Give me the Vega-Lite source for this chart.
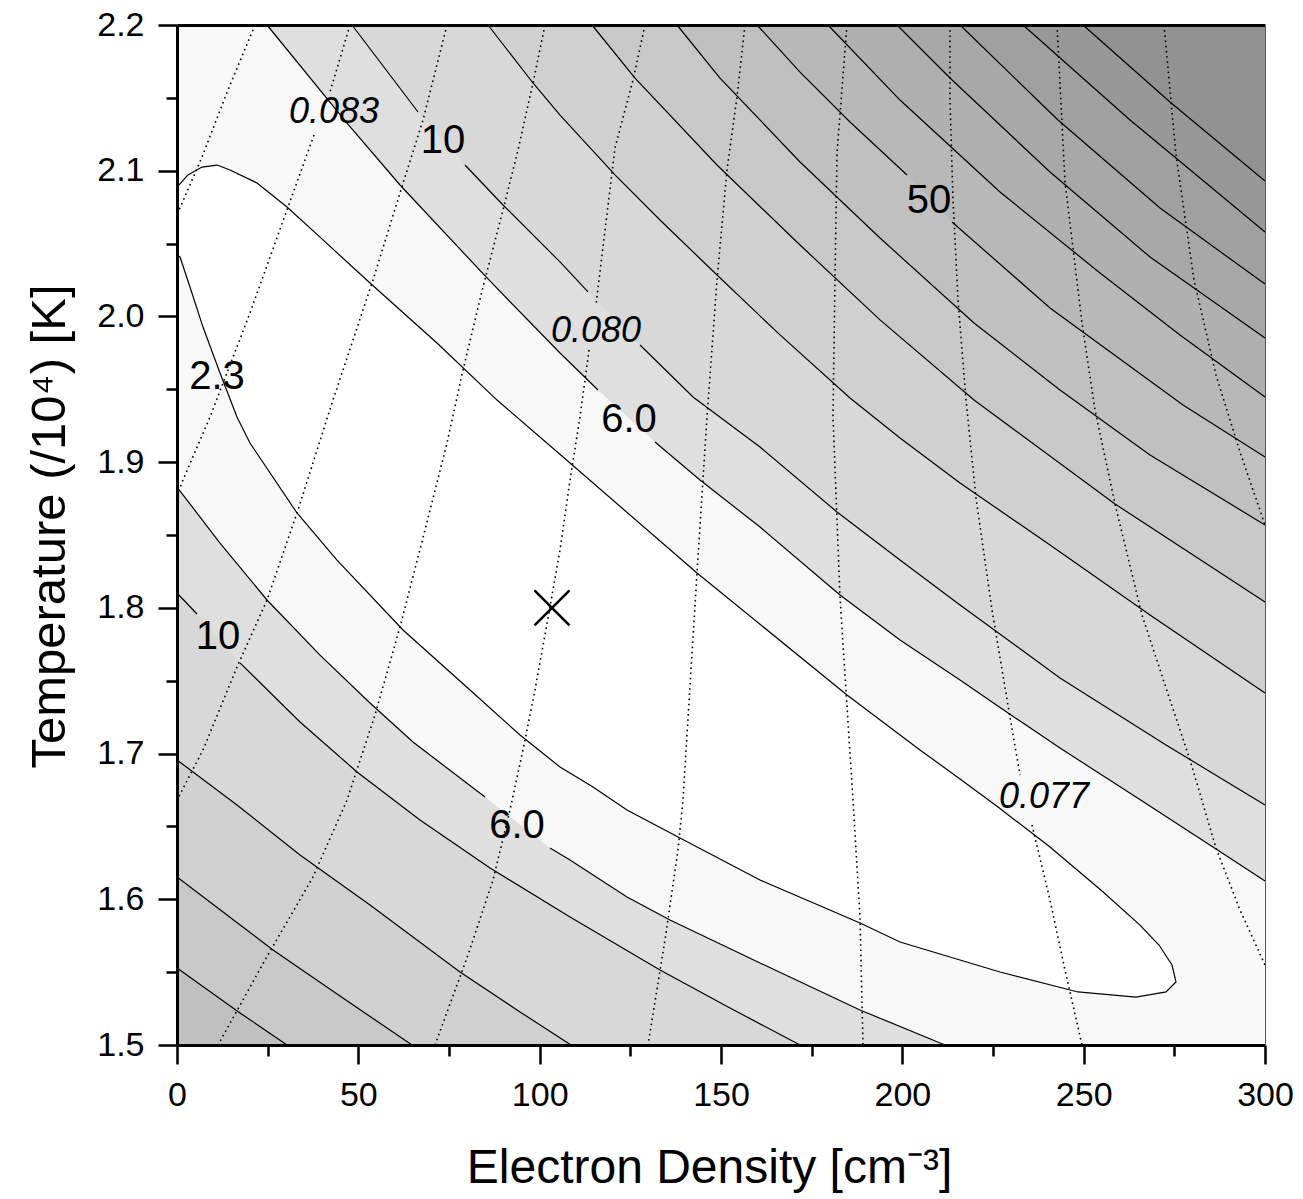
{
  "$schema": "https://vega.github.io/schema/vega-lite/v6.json",
  "width": 1088,
  "height": 1020,
  "autosize": {"type": "none"},
  "padding": {"left": 177, "top": 25, "right": 38, "bottom": 154},
  "background": "white",
  "config": {"view": {"stroke": null, "fill": "#929292"}, "font": "Liberation Sans"},
  "datasets": {
    "c": [
      {"l":100,"s":"c","k":0,"x":0,"y":2.2},{"l":100,"s":"u","k":1,"x":249.82,"y":2.2},{"l":100,"s":"u","k":2,"x":273.80,"y":2.1472},{"l":100,"s":"u","k":3,"x":300,"y":2.0929},{"l":100,"s":"c","k":4,"x":300,"y":1.5},{"l":100,"s":"c","k":5,"x":0,"y":1.5},
      {"l":90,"s":"c","k":0,"x":0,"y":2.2},{"l":90,"s":"u","k":1,"x":233.27,"y":2.2},{"l":90,"s":"u","k":2,"x":262.78,"y":2.1348},{"l":90,"s":"u","k":3,"x":282.08,"y":2.0950},{"l":90,"s":"u","k":4,"x":300,"y":2.0579},{"l":90,"s":"c","k":5,"x":300,"y":1.5},{"l":90,"s":"c","k":6,"x":0,"y":1.5},
      {"l":80,"s":"c","k":0,"x":0,"y":2.2},{"l":80,"s":"u","k":1,"x":215.90,"y":2.2},{"l":80,"s":"u","k":2,"x":242.92,"y":2.1348},{"l":80,"s":"u","k":3,"x":271.05,"y":2.0744},{"l":80,"s":"u","k":4,"x":300,"y":2.0222},{"l":80,"s":"c","k":5,"x":300,"y":1.5},{"l":80,"s":"c","k":6,"x":0,"y":1.5},
      {"l":70,"s":"c","k":0,"x":0,"y":2.2},{"l":70,"s":"u","k":1,"x":198.53,"y":2.2},{"l":70,"s":"u","k":2,"x":213.14,"y":2.1636},{"l":70,"s":"u","k":3,"x":240.72,"y":2.0991},{"l":70,"s":"u","k":4,"x":268.29,"y":2.0408},{"l":70,"s":"u","k":5,"x":300,"y":1.9852},{"l":70,"s":"c","k":6,"x":300,"y":1.5},{"l":70,"s":"c","k":7,"x":0,"y":1.5},
      {"l":60,"s":"c","k":0,"x":0,"y":2.2},{"l":60,"s":"u","k":1,"x":179.50,"y":2.2},{"l":60,"s":"u","k":2,"x":199.36,"y":2.1485},{"l":60,"s":"u","k":3,"x":226.93,"y":2.0854},{"l":60,"s":"u","k":4,"x":254.50,"y":2.0298},{"l":60,"s":"u","k":5,"x":276.56,"y":1.9873},{"l":60,"s":"u","k":6,"x":300,"y":1.9447},{"l":60,"s":"c","k":7,"x":300,"y":1.5},{"l":60,"s":"c","k":8,"x":0,"y":1.5},
      {"l":50,"s":"c","k":0,"x":0,"y":2.2},{"l":50,"s":"u","k":1,"x":159.93,"y":2.2},{"l":50,"s":"u","k":2,"x":171.79,"y":2.1677},{"l":50,"s":"u","k":3,"x":185.57,"y":2.1334},{"l":50,"s":"u","k":4,"x":201.29,"y":2.0971},{"l":50,"s":"u2","k":5,"x":213.70,"y":2.0648},{"l":50,"s":"u2","k":6,"x":240.72,"y":2.0058},{"l":50,"s":"u2","k":7,"x":277.39,"y":1.9392},{"l":50,"s":"u2","k":8,"x":300,"y":1.9035},{"l":50,"s":"c","k":9,"x":300,"y":1.5},{"l":50,"s":"c","k":10,"x":0,"y":1.5},
      {"l":40,"s":"c","k":0,"x":0,"y":2.2},{"l":40,"s":"u","k":1,"x":137.87,"y":2.2},{"l":40,"s":"u","k":2,"x":149.72,"y":2.1636},{"l":40,"s":"u","k":3,"x":171.79,"y":2.1060},{"l":40,"s":"u","k":4,"x":193.84,"y":2.0538},{"l":40,"s":"u","k":5,"x":219.76,"y":1.9955},{"l":40,"s":"u","k":6,"x":243.47,"y":1.9495},{"l":40,"s":"u","k":7,"x":268.29,"y":1.9049},{"l":40,"s":"u","k":8,"x":300,"y":1.8569},{"l":40,"s":"c","k":9,"x":300,"y":1.5},{"l":40,"s":"d","k":10,"x":30.33,"y":1.5},{"l":40,"s":"d","k":11,"x":17.37,"y":1.5220},{"l":40,"s":"d","k":12,"x":0,"y":1.5528},
      {"l":30,"s":"c","k":0,"x":0,"y":2.2},{"l":30,"s":"u","k":1,"x":114.43,"y":2.2},{"l":30,"s":"u","k":2,"x":126.29,"y":2.1636},{"l":30,"s":"u","k":3,"x":148.90,"y":2.1039},{"l":30,"s":"u","k":4,"x":171.79,"y":2.0490},{"l":30,"s":"u","k":5,"x":193.84,"y":1.9976},{"l":30,"s":"u","k":6,"x":219.76,"y":1.9426},{"l":30,"s":"u","k":7,"x":258.64,"y":1.8713},{"l":30,"s":"u","k":8,"x":300,"y":1.8040},{"l":30,"s":"c","k":9,"x":300,"y":1.5},{"l":30,"s":"d","k":10,"x":64.80,"y":1.5},{"l":30,"s":"d","k":11,"x":44.94,"y":1.5336},{"l":30,"s":"d","k":12,"x":26.47,"y":1.5652},{"l":30,"s":"d","k":13,"x":0,"y":1.6153},
      {"l":20,"s":"c","k":0,"x":0,"y":2.2},{"l":20,"s":"u","k":1,"x":85.75,"y":2.2},{"l":20,"s":"u","k":2,"x":98.16,"y":2.1602},{"l":20,"s":"u","k":3,"x":105.61,"y":2.1382},{"l":20,"s":"u","k":4,"x":120.77,"y":2.0971},{"l":20,"s":"u","k":5,"x":133.18,"y":2.0662},{"l":20,"s":"u","k":6,"x":148.90,"y":2.0284},{"l":20,"s":"u","k":7,"x":166.27,"y":1.9873},{"l":20,"s":"u","k":8,"x":185.57,"y":1.9440},{"l":20,"s":"u","k":9,"x":199.36,"y":1.9166},{"l":20,"s":"u","k":10,"x":215.90,"y":1.8857},{"l":20,"s":"u","k":11,"x":240.72,"y":1.8431},{"l":20,"s":"u","k":12,"x":268.29,"y":1.7951},{"l":20,"s":"u","k":13,"x":300,"y":1.7416},{"l":20,"s":"c","k":14,"x":300,"y":1.5},{"l":20,"s":"d","k":15,"x":108.64,"y":1.5},{"l":20,"s":"d","k":16,"x":94.58,"y":1.5227},{"l":20,"s":"d","k":17,"x":78.03,"y":1.5501},{"l":20,"s":"d","k":18,"x":53.22,"y":1.5961},{"l":20,"s":"d","k":19,"x":33.92,"y":1.6304},{"l":20,"s":"d","k":20,"x":16.54,"y":1.6647},{"l":20,"s":"d","k":21,"x":0,"y":1.6956},
      {"l":10,"s":"c","k":0,"x":0,"y":2.2},{"l":10,"s":"u","k":1,"x":48.25,"y":2.2},{"l":10,"s":"u","k":2,"x":66.45,"y":2.1403},{"l":10,"s":"u2","k":3,"x":79.41,"y":2.1039},{"l":10,"s":"u2","k":4,"x":89.89,"y":2.0765},{"l":10,"s":"u2","k":5,"x":105.61,"y":2.0374},{"l":10,"s":"u2","k":6,"x":113.33,"y":2.0168},{"l":10,"s":"u3","k":7,"x":127.67,"y":1.9804},{"l":10,"s":"u3","k":8,"x":142.28,"y":1.9447},{"l":10,"s":"u3","k":9,"x":160.75,"y":1.9104},{"l":10,"s":"u3","k":10,"x":181.98,"y":1.8658},{"l":10,"s":"u3","k":11,"x":199.36,"y":1.8328},{"l":10,"s":"u3","k":12,"x":215.90,"y":1.8020},{"l":10,"s":"u3","k":13,"x":243.47,"y":1.7519},{"l":10,"s":"u3","k":14,"x":272.70,"y":1.7059},{"l":10,"s":"u3","k":15,"x":300,"y":1.6647},{"l":10,"s":"c","k":16,"x":300,"y":1.5},{"l":10,"s":"d","k":17,"x":171.79,"y":1.5},{"l":10,"s":"d","k":18,"x":152.48,"y":1.5254},{"l":10,"s":"d","k":19,"x":133.18,"y":1.5515},{"l":10,"s":"d","k":20,"x":108.37,"y":1.5878},{"l":10,"s":"d","k":21,"x":86.31,"y":1.6215},{"l":10,"s":"d","k":22,"x":67.00,"y":1.6544},{"l":10,"s":"d","k":23,"x":49.63,"y":1.6874},{"l":10,"s":"d","k":24,"x":33.92,"y":1.7217},{"l":10,"s":"d","k":25,"x":17.37,"y":1.7622},{"l":10,"s":"d2","k":26,"x":5.51,"y":1.7958},{"l":10,"s":"d2","k":27,"x":0,"y":1.8102},
      {"l":6,"s":"c","k":0,"x":0,"y":2.2},{"l":6,"s":"u","k":1,"x":24.82,"y":2.2},{"l":6,"s":"u","k":2,"x":46.88,"y":2.1327},{"l":6,"s":"u","k":3,"x":61.49,"y":2.0902},{"l":6,"s":"u","k":4,"x":85.48,"y":2.0264},{"l":6,"s":"u","k":5,"x":105.61,"y":1.9749},{"l":6,"s":"u","k":6,"x":116.08,"y":1.9495},{"l":6,"s":"u2","k":7,"x":131.80,"y":1.9138},{"l":6,"s":"u2","k":8,"x":144.21,"y":1.8877},{"l":6,"s":"u2","k":9,"x":160.75,"y":1.8555},{"l":6,"s":"u2","k":10,"x":182.81,"y":1.8088},{"l":6,"s":"u2","k":11,"x":199.36,"y":1.7779},{"l":6,"s":"u2","k":12,"x":215.90,"y":1.7505},{"l":6,"s":"u2","k":13,"x":229.96,"y":1.7265},{"l":6,"s":"u2","k":14,"x":243.47,"y":1.7038},{"l":6,"s":"u2","k":15,"x":264.43,"y":1.6702},{"l":6,"s":"u2","k":16,"x":286.49,"y":1.6345},{"l":6,"s":"u2","k":17,"x":300,"y":1.6125},{"l":6,"s":"c","k":18,"x":300,"y":1.5},{"l":6,"s":"d","k":19,"x":211.77,"y":1.5},{"l":6,"s":"d","k":20,"x":188.33,"y":1.5240},{"l":6,"s":"d","k":21,"x":160.75,"y":1.5563},{"l":6,"s":"d","k":22,"x":135.94,"y":1.5858},{"l":6,"s":"d","k":23,"x":124.08,"y":1.6016},{"l":6,"s":"d","k":24,"x":108.37,"y":1.6270},{"l":6,"s":"d","k":25,"x":102.85,"y":1.6352},{"l":6,"s":"d2","k":26,"x":84.93,"y":1.6702},{"l":6,"s":"d2","k":27,"x":65.07,"y":1.7079},{"l":6,"s":"d2","k":28,"x":53.22,"y":1.7347},{"l":6,"s":"d2","k":29,"x":39.43,"y":1.7676},{"l":6,"s":"d2","k":30,"x":24.82,"y":1.8054},{"l":6,"s":"d2","k":31,"x":11.86,"y":1.8445},{"l":6,"s":"d2","k":32,"x":0,"y":1.8829},
      {"l":2.3,"s":"e","k":0,"x":0,"y":2.0888},{"l":2.3,"s":"e","k":1,"x":3.03,"y":2.0971},{"l":2.3,"s":"e","k":2,"x":6.89,"y":2.1025},{"l":2.3,"s":"e","k":3,"x":11.03,"y":2.1039},{"l":2.3,"s":"e","k":4,"x":14.61,"y":2.1005},{"l":2.3,"s":"e","k":5,"x":22.06,"y":2.0916},{"l":2.3,"s":"e","k":6,"x":30.33,"y":2.0751},{"l":2.3,"s":"e","k":7,"x":40.26,"y":2.0525},{"l":2.3,"s":"e","k":8,"x":53.22,"y":2.0229},{"l":2.3,"s":"e","k":9,"x":71.69,"y":1.9818},{"l":2.3,"s":"e","k":10,"x":88.24,"y":1.9426},{"l":2.3,"s":"e","k":11,"x":108.37,"y":1.8994},{"l":2.3,"s":"e","k":12,"x":143.38,"y":1.8239},{"l":2.3,"s":"e","k":13,"x":184.74,"y":1.7402},{"l":2.3,"s":"e","k":14,"x":204.87,"y":1.7025},{"l":2.3,"s":"e","k":15,"x":215.90,"y":1.6826},{"l":2.3,"s":"e","k":16,"x":226.38,"y":1.6633},{"l":2.3,"s":"e","k":17,"x":240.72,"y":1.6359},{"l":2.3,"s":"e","k":18,"x":255.06,"y":1.6057},{"l":2.3,"s":"e","k":19,"x":265.53,"y":1.5823},{"l":2.3,"s":"e","k":20,"x":270.77,"y":1.5686},{"l":2.3,"s":"e","k":21,"x":274.36,"y":1.5549},{"l":2.3,"s":"e","k":22,"x":275.46,"y":1.5432},{"l":2.3,"s":"e","k":23,"x":272.70,"y":1.5364},{"l":2.3,"s":"e","k":24,"x":264.43,"y":1.5329},{"l":2.3,"s":"e","k":25,"x":248.44,"y":1.5364},{"l":2.3,"s":"e","k":26,"x":226.93,"y":1.5501},{"l":2.3,"s":"e","k":27,"x":199.36,"y":1.5707},{"l":2.3,"s":"e","k":28,"x":188.33,"y":1.5837},{"l":2.3,"s":"e","k":29,"x":160.75,"y":1.6132},{"l":2.3,"s":"e","k":30,"x":138.69,"y":1.6421},{"l":2.3,"s":"e","k":31,"x":124.08,"y":1.6613},{"l":2.3,"s":"e","k":32,"x":114.71,"y":1.6771},{"l":2.3,"s":"e","k":33,"x":105.61,"y":1.6908},{"l":2.3,"s":"e","k":34,"x":94.58,"y":1.7127},{"l":2.3,"s":"e","k":35,"x":80.79,"y":1.7436},{"l":2.3,"s":"e","k":36,"x":62.32,"y":1.7848},{"l":2.3,"s":"e","k":37,"x":44.12,"y":1.8328},{"l":2.3,"s":"e","k":38,"x":33.09,"y":1.8651},{"l":2.3,"s":"e","k":39,"x":20.13,"y":1.9131},{"l":2.3,"s":"e","k":40,"x":16.54,"y":1.9310},{"l":2.3,"s":"e","k":41,"x":11.86,"y":1.9612},{"l":2.3,"s":"e","k":42,"x":7.17,"y":1.9927},{"l":2.3,"s":"e","k":43,"x":3.58,"y":2.0202},{"l":2.3,"s":"e","k":44,"x":0.83,"y":2.0408},{"l":2.3,"s":"e","k":45,"x":0,"y":2.0422}
    ],
    "r": [
      {"id":"W","k":0,"x":21.51,"y":2.2},{"id":"W","k":1,"x":14.06,"y":2.1554},{"id":"W","k":2,"x":6.89,"y":2.1094},{"id":"W","k":3,"x":0,"y":2.0696},
      {"id":"V1","k":0,"x":47.70,"y":2.2},{"id":"V1","k":1,"x":42.19,"y":2.1540},
      {"id":"V2","k":0,"x":37.78,"y":2.1245},{"id":"V2","k":1,"x":30.61,"y":2.0751},{"id":"V2","k":2,"x":20.13,"y":2.0024},{"id":"V2","k":3,"x":9.10,"y":1.9310},{"id":"V2","k":4,"x":1.65,"y":1.8877},{"id":"V2","k":5,"x":0,"y":1.8768},
      {"id":"U","k":0,"x":74.45,"y":2.2},{"id":"U","k":1,"x":67.83,"y":2.1348},{"id":"U","k":2,"x":61.49,"y":2.0847},{"id":"U","k":3,"x":54.04,"y":2.0250},{"id":"U","k":4,"x":43.01,"y":1.9426},{"id":"U","k":5,"x":33.09,"y":1.8651},{"id":"U","k":6,"x":24.82,"y":1.8054},{"id":"U","k":7,"x":16.54,"y":1.7594},{"id":"U","k":8,"x":7.17,"y":1.7025},{"id":"U","k":9,"x":0,"y":1.6681},
      {"id":"T","k":0,"x":101.47,"y":2.2},{"id":"T","k":1,"x":98.16,"y":2.1602},{"id":"T","k":2,"x":94.03,"y":2.1142},{"id":"T","k":3,"x":89.89,"y":2.0730},{"id":"T","k":4,"x":84.37,"y":2.0202},{"id":"T","k":5,"x":78.86,"y":1.9632},{"id":"T","k":6,"x":74.45,"y":1.9131},{"id":"T","k":7,"x":68.38,"y":1.8534},{"id":"T","k":8,"x":61.49,"y":1.7869},{"id":"T","k":9,"x":54.60,"y":1.7265},{"id":"T","k":10,"x":46.88,"y":1.6681},{"id":"T","k":11,"x":37.50,"y":1.6153},{"id":"T","k":12,"x":24.26,"y":1.5583},{"id":"T","k":13,"x":11.31,"y":1.5},
      {"id":"S1","k":0,"x":129.04,"y":2.2},{"id":"S1","k":1,"x":125.74,"y":2.1623},{"id":"S1","k":2,"x":120.77,"y":2.1156},{"id":"S1","k":3,"x":115.53,"y":2.0078},
      {"id":"S2","k":0,"x":113.61,"y":1.9770},{"id":"S2","k":1,"x":111.12,"y":1.9310},{"id":"S2","k":2,"x":108.37,"y":1.8877},{"id":"S2","k":3,"x":105.61,"y":1.8397},{"id":"S2","k":4,"x":102.85,"y":1.8006},{"id":"S2","k":5,"x":98.71,"y":1.7436},{"id":"S2","k":6,"x":95.40,"y":1.7025},{"id":"S2","k":7,"x":91.82,"y":1.6613},{"id":"S2","k":8,"x":87.13,"y":1.6132},{"id":"S2","k":9,"x":80.24,"y":1.5618},{"id":"S2","k":10,"x":71.14,"y":1.5},
      {"id":"R","k":0,"x":156.62,"y":2.2},{"id":"R","k":1,"x":154.41,"y":2.1506},{"id":"R","k":2,"x":151.65,"y":2.1005},{"id":"R","k":3,"x":148.90,"y":2.0250},{"id":"R","k":4,"x":146.14,"y":1.9310},{"id":"R","k":5,"x":143.38,"y":1.8239},{"id":"R","k":6,"x":139.52,"y":1.6681},{"id":"R","k":7,"x":138.14,"y":1.6338},{"id":"R","k":8,"x":134.56,"y":1.5721},{"id":"R","k":9,"x":129.87,"y":1.5},
      {"id":"Q","k":0,"x":184.74,"y":2.2},{"id":"Q","k":1,"x":181.98,"y":2.1122},{"id":"Q","k":2,"x":181.43,"y":2.0250},{"id":"Q","k":3,"x":180.88,"y":1.9310},{"id":"Q","k":4,"x":182.81,"y":1.8075},{"id":"Q","k":5,"x":186.40,"y":1.6681},{"id":"Q","k":6,"x":188.33,"y":1.5878},{"id":"Q","k":7,"x":189.15,"y":1.5},
      {"id":"P1","k":0,"x":213.14,"y":2.2},{"id":"P1","k":1,"x":213.14,"y":2.1485},{"id":"P1","k":2,"x":213.97,"y":2.0799},{"id":"P1","k":3,"x":215.35,"y":2.0113},{"id":"P1","k":4,"x":217.56,"y":1.9426},{"id":"P1","k":5,"x":220.31,"y":1.8754},{"id":"P1","k":6,"x":224.72,"y":1.7985},{"id":"P1","k":7,"x":229.96,"y":1.7210},{"id":"P1","k":8,"x":232.45,"y":1.6853},
      {"id":"P2","k":0,"x":235.75,"y":1.6510},{"id":"P2","k":1,"x":240.72,"y":1.5995},{"id":"P2","k":2,"x":244.85,"y":1.5515},{"id":"P2","k":3,"x":249.54,"y":1.5},
      {"id":"Z1","k":0,"x":242.65,"y":2.2},{"id":"Z1","k":1,"x":244.85,"y":2.0923},{"id":"Z1","k":2,"x":249.54,"y":1.9955},{"id":"Z1","k":3,"x":253.12,"y":1.9358},{"id":"Z1","k":4,"x":258.64,"y":1.8713},{"id":"Z1","k":5,"x":266.08,"y":1.7951},{"id":"Z1","k":6,"x":273.80,"y":1.7368},{"id":"Z1","k":7,"x":279.32,"y":1.6956},{"id":"Z1","k":8,"x":286.49,"y":1.6352},{"id":"Z1","k":9,"x":293.11,"y":1.5926},{"id":"Z1","k":10,"x":300,"y":1.5549},
      {"id":"Z2","k":0,"x":272.15,"y":2.2},{"id":"Z2","k":1,"x":275.46,"y":2.1108},{"id":"Z2","k":2,"x":280.42,"y":2.0250},{"id":"Z2","k":3,"x":286.49,"y":1.9598},{"id":"Z2","k":4,"x":293.11,"y":1.9070},{"id":"Z2","k":5,"x":300,"y":1.8569}
    ],
    "t": [
      {"t":"0.083","g":"ratio","x":43.29,"y":2.1403},
      {"t":"0.080","g":"ratio","x":115.53,"y":1.9900},
      {"t":"0.077","g":"ratio","x":239.06,"y":1.6702},
      {"t":"10","g":"chi","x":73.35,"y":2.1204},
      {"t":"50","g":"chi","x":207.35,"y":2.0792},
      {"t":"2.3","g":"chi","x":11.03,"y":1.9584},
      {"t":"6.0","g":"chi","x":124.63,"y":1.9289},
      {"t":"10","g":"chi","x":11.31,"y":1.7800},
      {"t":"6.0","g":"chi","x":93.75,"y":1.6503}
    ],
    "m": [{"x":103.40,"y":1.8}]
  },
  "layer": [
    {
      "data": {"name": "c"},
      "mark": {"type": "line", "filled": true, "interpolate": "linear"},
      "encoding": {
        "x": {"field": "x", "type": "quantitative",
          "scale": {"domain": [0, 300], "nice": false, "zero": false},
          "axis": {"orient": "bottom", "values": [0,25,50,75,100,125,150,175,200,225,250,275,300],
            "labelExpr": "datum.value % 50 == 0 ? datum.label : ''",
            "tickSize": {"condition": {"test": "datum.value % 50 != 0", "value": 11}, "value": 19},
            "tickWidth": 2.5, "tickColor": "black", "domainWidth": 3, "domainColor": "black",
            "labelFontSize": 34, "labelColor": "black", "labelPadding": 14, "labelFlush": false, "labelOverlap": false, "labelBound": false,
            "grid": false, "zindex": 1,
            "title": "Electron Density [cm⁻³]", "titleFontSize": 48, "titleFontWeight": "normal", "titleColor": "black",
            "titleX": 532, "titleY": 137, "titleAlign": "center", "titleBaseline": "alphabetic"}},
        "y": {"field": "y", "type": "quantitative",
          "scale": {"domain": [1.5, 2.2], "nice": false, "zero": false},
          "axis": {"orient": "left", "values": [1.5,1.55,1.6,1.65,1.7,1.75,1.8,1.85,1.9,1.95,2.0,2.05,2.1,2.15,2.2],
            "labelExpr": "round(datum.value*100) % 10 == 0 ? format(datum.value, '.1f') : ''",
            "tickSize": {"condition": {"test": "round(datum.value*100) % 10 != 0", "value": 11}, "value": 19},
            "tickWidth": 2.5, "tickColor": "black", "domainWidth": 3, "domainColor": "black",
            "labelFontSize": 34, "labelColor": "black", "labelPadding": 14, "labelFlush": false, "labelOverlap": false, "labelBound": false,
            "grid": false, "zindex": 1,
            "title": "Temperature (/10⁴) [K]", "titleFontSize": 49, "titleFontWeight": "normal", "titleColor": "black",
            "titleX": -113, "titleY": 501, "titleAlign": "center", "titleBaseline": "alphabetic", "titleAngle": 270}},
        "color": {"field": "l", "type": "ordinal",
          "scale": {"domain": [2.3, 6, 10, 20, 30, 40, 50, 60, 70, 80, 90, 100],
                    "range": ["#ffffff", "#f8f8f8", "#dfdfdf", "#d8d8d8", "#d0d0d0", "#c8c8c8", "#c0c0c0", "#b8b8b8", "#b0b0b0", "#a8a8a8", "#a0a0a0", "#989898"]},
          "legend": null},
        "order": {"field": "k", "type": "quantitative"}
      }
    },
    {
      "data": {"name": "c"},
      "transform": [{"filter": "datum.s != 'c'"}],
      "mark": {"type": "line", "color": "black", "strokeWidth": 1.2},
      "encoding": {
        "x": {"field": "x", "type": "quantitative",
          "axis": {"orient": "top", "labels": false, "ticks": false, "title": null, "grid": false, "domainWidth": 3, "domainColor": "black", "zindex": 1}},
        "y": {"field": "y", "type": "quantitative",
          "axis": {"orient": "right", "labels": false, "ticks": false, "title": null, "grid": false, "domainWidth": 1, "domainColor": "#555555", "zindex": 1}},
        "detail": [{"field": "l", "type": "nominal"}, {"field": "s", "type": "nominal"}],
        "order": {"field": "k", "type": "quantitative"}
      }
    },
    {
      "data": {"name": "r"},
      "mark": {"type": "line", "color": "black", "strokeWidth": 1.6, "strokeDash": [1.6, 3.6]},
      "encoding": {
        "x": {"field": "x", "type": "quantitative", "axis": null},
        "y": {"field": "y", "type": "quantitative", "axis": null},
        "detail": {"field": "id", "type": "nominal"},
        "order": {"field": "k", "type": "quantitative"}
      }
    },
    {
      "data": {"name": "t"},
      "transform": [{"filter": "datum.g == 'chi'"}],
      "mark": {"type": "text", "fontSize": 40, "font": "Liberation Sans", "color": "black", "align": "center", "baseline": "middle"},
      "encoding": {
        "x": {"field": "x", "type": "quantitative", "axis": null},
        "y": {"field": "y", "type": "quantitative", "axis": null},
        "text": {"field": "t"}
      }
    },
    {
      "data": {"name": "t"},
      "transform": [{"filter": "datum.g == 'ratio'"}],
      "mark": {"type": "text", "fontSize": 36, "font": "Liberation Sans", "fontStyle": "italic", "color": "black", "align": "center", "baseline": "middle"},
      "encoding": {
        "x": {"field": "x", "type": "quantitative", "axis": null},
        "y": {"field": "y", "type": "quantitative", "axis": null},
        "text": {"field": "t"}
      }
    },
    {
      "data": {"name": "m"},
      "mark": {"type": "point", "shape": "M-1,-1L1,1M-1,1L1,-1", "size": 1225, "filled": false, "color": "black", "strokeWidth": 2.5, "opacity": 1},
      "encoding": {
        "x": {"field": "x", "type": "quantitative", "axis": null},
        "y": {"field": "y", "type": "quantitative", "axis": null}
      }
    }
  ],
  "resolve": {"axis": {"x": "independent", "y": "independent"}}
}
